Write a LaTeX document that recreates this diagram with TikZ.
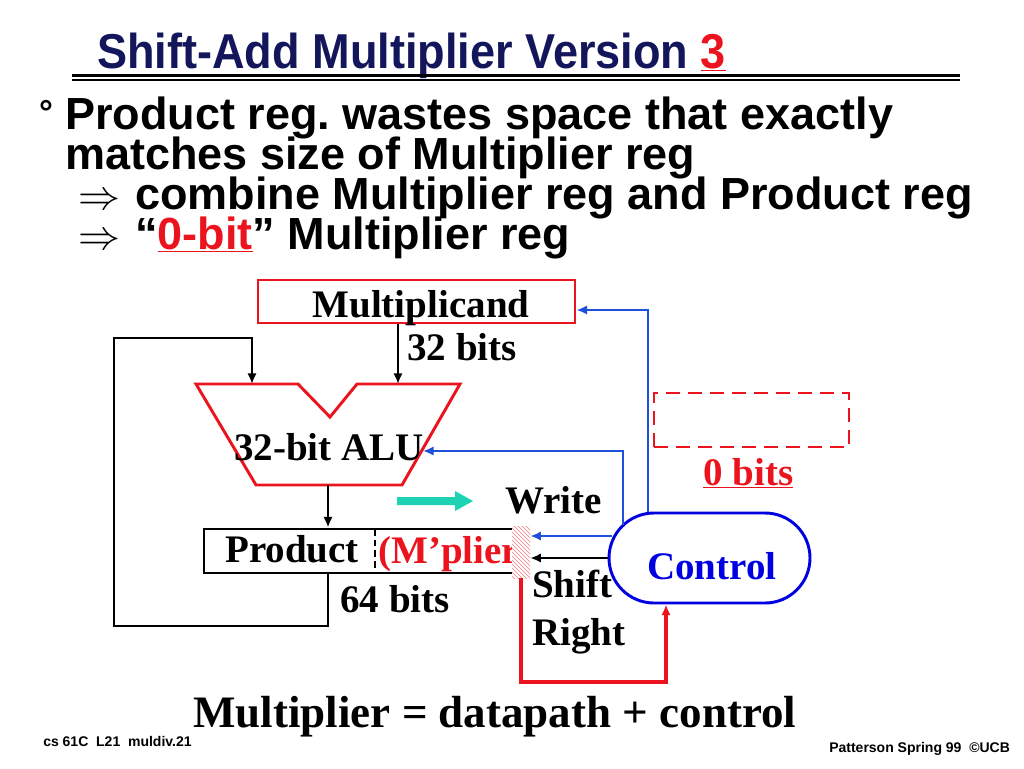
\documentclass[tikz,border=0pt]{standalone}
\usepackage{fontspec}
\setmainfont{Liberation Serif}
\newfontfamily\hv{Liberation Sans}
\usetikzlibrary{arrows.meta,patterns,shapes.misc,calc}
\definecolor{navy}{RGB}{20,22,92}
\definecolor{myred}{RGB}{235,20,30}
\definecolor{cblue}{RGB}{0,0,225}
\definecolor{ablue}{RGB}{30,80,220}
\definecolor{tealc}{RGB}{30,210,180}
\newcommand\tmsf{\fontsize{29.25pt}{32pt}\selectfont\bfseries}
\newcommand\bulf{\hv\fontsize{33.75pt}{40pt}\selectfont\bfseries}
\frenchspacing
\begin{document}
\begin{tikzpicture}[x=0.75pt,y=-0.75pt,
  lbl/.style={inner sep=0pt, anchor=base west, font=\tmsf},
  bul/.style={inner sep=0pt, anchor=base west, font=\bulf},
  wire/.style={line width=2pt, -{Latex[length=8pt,width=7pt]}},
  bwire/.style={wire, draw=ablue, line width=2pt},
  redbox/.style={draw=myred, line width=2.2pt, inner sep=0pt},
  foot/.style={anchor=base west, inner sep=0pt, font=\hv\fontsize{10.5pt}{12pt}\selectfont\bfseries}
]
\useasboundingbox[fill=white] (0,0) rectangle (1024,768);

% title
\node[anchor=base west, inner sep=0pt, text=navy, font=\hv\fontsize{36.75pt}{40pt}\selectfont\bfseries] (title) at (97,68)
  {\scalebox{0.92}[1]{Shift-Add Multiplier Version \textcolor{myred}{\underline{3}}}};
\draw[line width=2.6pt] (72,75.5) -- (960,75.5);
\draw[line width=1.1pt] (72,80) -- (960,80);

% bullet text
\node[inner sep=0pt, anchor=base west, font=\hv\fontsize{26pt}{26pt}\selectfont\bfseries] (deg) at (39,124) {°};
\node[bul] (l1) at (65,129) {Product reg. wastes space that exactly};
\node[bul] (l2) at (65,169) {matches size of Multiplier reg};
\node[inner sep=0pt, anchor=base west, font=\normalsize] (a3) at (78,209) {\scalebox{3.15}{$\Rightarrow$}};
\node[bul] (l3) at (135,209) {combine Multiplier reg and Product reg};
\node[inner sep=0pt, anchor=base west, font=\normalsize] (a4) at (78,249) {\scalebox{3.15}{$\Rightarrow$}};
\node[bul] (l4) at (135,249) {“\textcolor{myred}{\underline{0-bit}}” Multiplier reg};

% multiplicand
\node[redbox, minimum width=237.75pt, minimum height=32.25pt] (mcand) at (416.5,301.5) {};
\node[lbl, anchor=base] (mcandt) at (421,317) {Multiplicand};
\node[lbl] (b32) at (407,360) {32 bits};

% ALU
\draw[myred, line width=2.2pt, line join=miter] (196,384) -- (298,384) -- (330,417) -- (357,384) -- (460,384) -- (402,485) -- (256,485) -- cycle;
\node[lbl] (alut) at (234,460) {32-bit ALU};
\coordinate (aluL) at (252,384);
\coordinate (aluR) at (398,384);
\coordinate (aluO) at (328,485);
\coordinate (aluS) at (423,451);

% product
\node[draw, line width=2.2pt, minimum width=237.75pt, minimum height=33pt, inner sep=0pt] (prod) at (362.5,551) {};
\draw[line width=1.6pt, dash pattern=on 5pt off 3pt] (375,529) -- (375,573);
\node[lbl] (prodt) at (225,562) {Product};
\node[lbl, text=myred] (mplier) at (378,563) {(M’plier};
\node[inner sep=0pt, minimum width=13.5pt, minimum height=39pt, preaction={fill=white}, pattern=north west lines, pattern color=myred!55] (hatch) at (521,552) {};
\node[lbl] (b64) at (340,612) {64 bits};

% teal arrow and labels
\fill[tealc] (397,497) -- (455,497) -- (455,491) -- (473,501) -- (455,511) -- (455,505) -- (397,505) -- cycle;
\node[lbl] (wr) at (505,513) {Write};
\node[lbl] (sh) at (532,597) {Shift};
\node[lbl] (rt) at (532,645) {Right};

% control
\node[draw=cblue, line width=2.2pt, rounded rectangle, minimum width=150.75pt, minimum height=67.5pt, inner sep=0pt] (ctrl) at (709.5,558) {};
\node[lbl, text=cblue] (ctrlt) at (647,579) {Control};

% 0-bit register
\node[redbox, dash pattern=on 10.5pt off 6pt, minimum width=146.25pt, minimum height=40.5pt] (zero) at (751.5,420) {};
\node[lbl, text=myred] (zb) at (703,485) {\underline{0 bits}};

% connectors
\draw[wire] (mcand.south -| aluR) -- (aluR);
\coordinate (lpB) at (114,626);
\coordinate (lpT) at (114,338);
\draw[wire] (prod.south -| aluO) |- (lpB) -- (lpT) -| (aluL);
\draw[wire] (aluO) -- (aluO |- prod.north);

\coordinate (bv1) at (648,310);
\draw[bwire] (bv1 |- ctrl.north) -- (bv1) -- (bv1 -| mcand.east);
\coordinate (bs2) at (623,525);
\coordinate (bv2) at (623,451);
\draw[bwire] (bs2) -- (bv2) -- (aluS);
\coordinate (wS) at (612,536);
\draw[bwire] (wS) -- (wS -| hatch.east);
\draw[wire] (ctrl.west) -- (ctrl.west -| hatch.east);
\coordinate (rC) at (666,682);
\draw[wire, draw=myred, line width=2.4pt] (hatch.south) |- (rC) -- (rC |- ctrl.south);

% bottom
\node[anchor=base west, inner sep=0pt, font=\fontsize{33.75pt}{36pt}\selectfont\bfseries] (bot) at (193,727) {Multiplier = datapath + control};
\node[foot] (fl) at (43,746) {cs 61C\ \ L21\ \ muldiv.21};
\node[foot] (fr) at (829,752) {Patterson Spring 99\ \ ©UCB};
\end{tikzpicture}
\end{document}
